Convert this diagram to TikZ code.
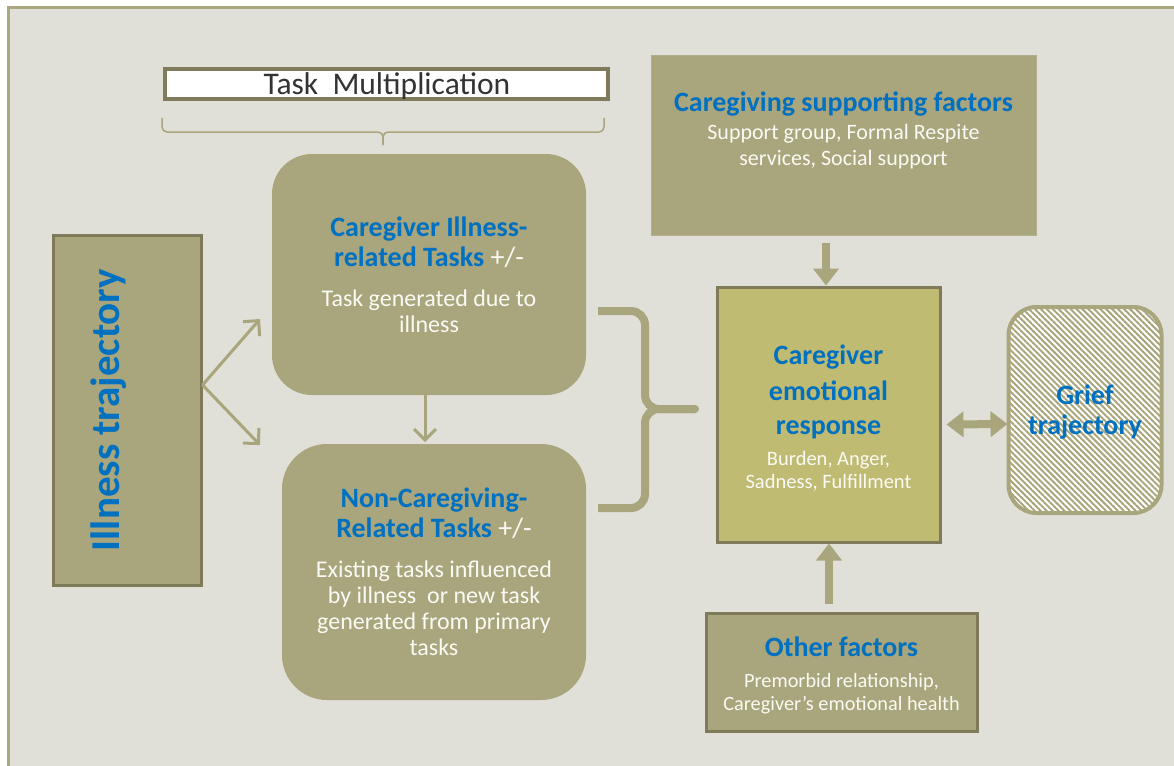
\documentclass[tikz,border=0pt]{standalone}
\usepackage{fontspec}
\setmainfont{Carlito}
\usetikzlibrary{arrows.meta,patterns.meta}
\definecolor{bg}{HTML}{E1E0D8}
\definecolor{frameline}{HTML}{ABA77F}
\definecolor{boxfill}{HTML}{A9A57C}
\definecolor{emofill}{HTML}{C0BB72}
\definecolor{edge}{HTML}{7F7B5A}
\definecolor{hblue}{HTML}{0070C0}
\definecolor{soft}{HTML}{FAFAF5}
\newcommand{\hd}{\fontsize{28}{30}\selectfont\bfseries\color{hblue}}
\newcommand{\rg}{\mdseries\color{soft}}
\tikzset{
  box/.style={fill=boxfill, inner sep=0pt},
  roundbox/.style={box, rounded corners=40pt},
  framedbox/.style={box, draw=edge, line width=3pt},
  txt/.style={align=center, text=soft, inner sep=0pt},
  thin arrow/.style={draw=boxfill, line width=3pt,
    -{Straight Barb[length=11pt,width=22pt,line width=3pt]}},
  fat arrow/.style={draw=boxfill, line width=8pt,
    -{Triangle[length=17pt,width=25pt]}},
  bracket/.style={draw=boxfill, line width=8pt, rounded corners=14pt}
}
\begin{document}
\begin{tikzpicture}[x=1pt,y=-1pt]
\useasboundingbox (0,0) rectangle (1174,765);
% page and outer frame
\fill[white] (0,0) rectangle (1174,765);
\begin{scope}
  \clip (0,0) rectangle (1174,765);
  \draw[draw=frameline, fill=bg, line width=3pt] (8,8) rectangle (1200,800);
\end{scope}

% task multiplication banner and its thin brace
\node[draw=edge, fill=white, line width=3.5pt, minimum width=443, minimum height=30,
      inner sep=0pt] (mult) at (386.5,84) {};
\node[text={black!80}, font=\fontsize{31.5}{32}\selectfont, inner sep=0pt] (multtxt) at (387,86) {Task\ \ Multiplication};
\coordinate (brl) at (162,118);
\coordinate (brr) at (604,118);
\coordinate (brc) at (383,145);
\draw[boxfill, line width=1.5pt, rounded corners=5pt] (brl) |- (383,132) -- (brc);
\draw[boxfill, line width=1.5pt, rounded corners=5pt] (brr) |- (383,132) -- (brc);

% illness trajectory
\node[framedbox, minimum width=148, minimum height=350] (ill) at (127,410) {};
\node[rotate=90, font=\fontsize{41}{41}\selectfont\bfseries, text=hblue, inner sep=0pt]
  (illtxt) at (109,410) {Illness trajectory};

% task boxes
\node[roundbox, minimum width=314, minimum height=241] (care) at (429,274.5) {};
\node[txt, font=\fontsize{24}{26}\selectfont] (caretxt) at (429,275)
  {\hd Caregiver Illness-\\[4pt] \hd related Tasks \rg +/-\\[14pt]
   \rg Task generated due to\\ \rg illness};
\node[roundbox, rounded corners=45pt, minimum width=304, minimum height=256] (non) at (434,572) {};
\node[txt, font=\fontsize{24}{26}\selectfont] (nontxt) at (434,572)
  {\hd Non-Caregiving-\\[4pt] \hd Related Tasks \rg +/-\\[14pt]
   \rg Existing tasks influenced\\ \rg by illness\ \ or new task\\
   \rg generated from primary\\ \rg tasks};

% arrows out of the illness trajectory
\coordinate (fork) at (ill.east |- 0,385);
\coordinate (toup) at (260,319);
\coordinate (todown) at (260,445);
\draw[thin arrow] (fork) -- (toup);
\draw[thin arrow] (fork) -- (todown);
\draw[thin arrow] (care.south) ++(-4,-17) -- ++(0,64);

% large brace gathering both task boxes
\coordinate (bt) at (598,311);
\coordinate (bb) at (598,508);
\coordinate (btip) at (695,409);
\draw[bracket] (bt) -- (645,311) -- (645,409) -- (btip);
\draw[bracket] (bb) -- (645,508) -- (645,409) -- (btip);
\fill[boxfill] (btip) circle (4pt);

% supporting factors
\node[box, draw=boxfill!90!white, line width=1pt, minimum width=385, minimum height=179] (supp) at (843.5,145.5) {};
\node[txt, font=\fontsize{22}{26}\selectfont] (supptxt) at (843.5,130)
  {\hd Caregiving supporting factors\\[2pt] \rg Support group, Formal Respite\\ \rg services, Social support};

% caregiver emotional response
\node[framedbox, fill=emofill, minimum width=223, minimum height=255] (emo) at (828.5,414.5) {};
\node[txt, font=\fontsize{20.5}{23}\selectfont] (emotxt) at (828.5,418)
  {\hd Caregiver\\[11pt] \hd emotional\\[11pt] \hd response\\[8pt] \rg Burden, Anger,\\ \rg Sadness, Fulfillment};

% grief trajectory
\node[draw=boxfill, line width=4pt, rounded corners=28pt, minimum width=153, minimum height=206,
      preaction={fill=white},
      pattern={Lines[angle=-45,distance=4.2pt,line width=2pt]}, pattern color=boxfill]
  (grief) at (1085,410) {};
\node[txt, font=\fontsize{28}{30}\selectfont\bfseries, text=hblue] (grieftxt) at (1085,412)
  {Grief\\trajectory};

% other factors
\node[framedbox, minimum width=271, minimum height=118] (other) at (841.5,672) {};
\node[txt, font=\fontsize{20.3}{23}\selectfont] (othertxt) at (841.5,675)
  {\hd Other factors\\[8pt] \rg Premorbid relationship,\\ \rg Caregiver’s emotional health};

% thick connectors into the emotional response
\draw[fat arrow] (supp.south -| 826,0) ++(0,7) -- (emo.north -| 826,0);
\draw[fat arrow] (other.north -| 829,0) ++(0,-8) -- (emo.south -| 829,0);
\draw[draw=boxfill, line width=8pt, {Triangle[length=17pt,width=25pt]}-{Triangle[length=17pt,width=25pt]}]
  (emo.east) ++(5,10) -- (grief.west |- 0,424);
\end{tikzpicture}
\end{document}
